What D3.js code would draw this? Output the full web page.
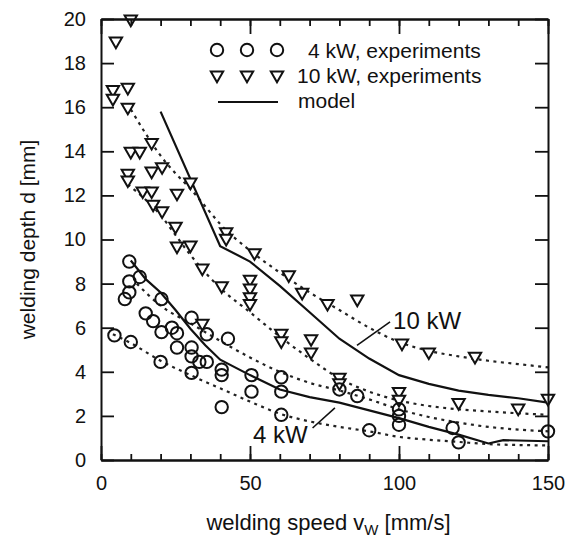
<html>
	<head>
		<script src="https://d3js.org/d3.v7.min.js"></script>
		<style>
			body { margin: 0; background: #fff; }
			text { font-family: "Liberation Sans", Arial, Helvetica, sans-serif; fill: #111; }
		</style>
	</head>
	<body>
		<div id="chart"></div>
		<script>
			// experiments, [speed mm/s, depth mm]
			var exp10 = [[10,20],[5,19],[4,16.8],[4,16.4],[9,16.9],[9,16.0],
				[10,14],[13,14],[17,14.4],[9,13.0],[9,12.7],[17,13.1],[20.5,13.3],[30,12.6],
				[14,12.2],[17,12.2],[25.5,12.1],[17.5,11.6],[20.5,11.3],[25,10.6],
				[25.5,9.7],[30,9.75],[42,10.35],[42,10.05],[51.5,9.4],
				[34,8.7],[40.5,7.9],[50,8.2],[50,7.8],[50,7.4],[50,7.1],
				[63,8.4],[67.5,7.6],[76,7.1],[86,7.3],[34,6.2],
				[60.5,5.75],[60.5,5.4],[70.5,5.5],[70.5,4.9],
				[101,5.3],[110,4.9],[125.5,4.7],
				[80,3.75],[80,3.5],[100,3.1],[100,2.75],[120,2.6],[140,2.35],[150,2.8]];
			var exp4 = [[9.5,9.0],[9.5,8.1],[13,8.3],[8,7.3],[9.5,7.6],[20.3,7.3],
				[15,6.65],[17.5,6.3],[20.3,5.8],[23.8,6.0],[25.5,5.75],[25.5,5.1],
				[30.4,6.45],[30.4,5.1],[30.4,4.7],[30.4,3.95],[33,4.45],[35.5,4.45],[35.5,5.7],
				[42.6,5.5],[40.5,4.1],[40.5,3.85],[40.5,2.4],[4.5,5.65],[10,5.35],[20,4.45],
				[50.5,3.85],[50.5,3.1],[60.5,3.75],[60.5,3.1],[60.5,2.05],
				[80,3.2],[86,2.9],[90,1.35],[100,2.3],[100,2.0],[100,1.6],[118,1.45],[120,0.8],[150,1.3]];

			// model curves
			var model10 = [[20,15.8],[40,9.7],[50,9.0],[60,7.9],[70,6.7],[80,5.5],[90,4.6],[100,3.85],
				[110,3.45],[120,3.15],[130,2.95],[140,2.8],[150,2.6]];
			var model4 = [[10,9.05],[15,8.2],[20,7.6],[25,6.8],[30,5.95],[35,5.2],[40,4.55],[50,3.85],
				[60,3.2],[70,2.85],[80,2.6],[90,2.25],[100,1.9],[110,1.5],[120,1.15],[130,0.75],[135,0.9],[150,0.85]];

			// dotted fits through the experiments
			var fits = [
				[[10,15.9],[15,14.8],[20,13.8],[25,13.0],[30,12.3],[35,11.5],[40,10.7],[50,9.5],[60,8.5],[70,7.6],
					[80,6.8],[90,6.0],[100,5.35],[110,4.95],[120,4.7],[130,4.5],[140,4.35],[150,4.2]],
				[[9,12.5],[15,11.8],[20,11.1],[25,10.2],[30,9.3],[35,8.5],[40,7.8],[50,6.7],[60,5.6],[70,4.6],
					[80,3.7],[90,3.1],[100,2.7],[110,2.45],[120,2.3],[130,2.2],[140,2.12],[150,2.05]],
				[[12,8.0],[20,7.0],[30,6.2],[40,5.4],[50,4.65],[60,4.0],[70,3.5],[80,3.15],[90,2.75],[100,2.3],
					[110,1.95],[120,1.7],[130,1.5],[140,1.38],[150,1.3]],
				[[4,5.7],[10,5.3],[20,4.5],[30,3.85],[40,3.25],[50,2.65],[60,2.1],[70,1.75],[80,1.5],[90,1.3],
					[100,1.05],[110,0.92],[120,0.82],[130,0.72],[140,0.68],[150,0.66]]
			];

			// annotations: label position and leader line, in data units
			var labels = [
				{text: '10 kW', at: [98, 5.95], leader: [[97,6.26],[85.9,5.2]]},
				{text: '4 kW', at: [51, 0.77], leader: [[71,1.45],[78.5,2.36]]}
			];

			var xMajor = [0, 50, 100, 150];
			var xMinor = d3.range(0, 151, 10);
			var yMajor = d3.range(0, 21, 2);

			var w = 571, h = 537;
			var x0 = 101, x1 = 548, yTop = 19, yBot = 460;

			var Xscale = d3.scaleLinear().domain([0,150]).range([x0,x1]);
			var Yscale = d3.scaleLinear().domain([0,20]).range([yBot,yTop]);

			var svg = d3.select('#chart').append('svg').attr('width',w).attr('height',h);

			// dotted fits
			var fitLine = d3.line().curve(d3.curveMonotoneX)
				.x(function(d){return Xscale(d[0])}).y(function(d){return Yscale(d[1])});
			svg.selectAll('.fit').data(fits).enter().append('path').attr('class','fit')
				.attr('fill','none').attr('stroke','#222').attr('stroke-width',2.2)
				.attr('stroke-dasharray','3,4.5').attr('d', fitLine);

			// model
			var modelLine = d3.line().x(function(d){return Xscale(d[0])}).y(function(d){return Yscale(d[1])});
			[model10, model4].forEach(function(m){
				svg.append('path').attr('fill','none').attr('stroke','#111').attr('stroke-width',2.2)
					.attr('d', modelLine(m));
			});

			// markers
			var tri = d3.symbol().type(d3.symbolTriangle).size(66);
			svg.selectAll('.t10').data(exp10).enter().append('path').attr('class','t10')
				.attr('d', tri).attr('fill','#fff').attr('stroke','#111').attr('stroke-width',2)
				.attr('transform', function(d){return 'translate('+Xscale(d[0])+','+Yscale(d[1])+') rotate(180)'});
			svg.selectAll('.c4').data(exp4).enter().append('circle').attr('class','c4')
				.attr('cx', function(d){return Xscale(d[0])}).attr('cy', function(d){return Yscale(d[1])})
				.attr('r',6.2).attr('fill','none').attr('stroke','#111').attr('stroke-width',2);

			// annotations
			labels.forEach(function(l){
				svg.append('line').attr('x1',Xscale(l.leader[0][0])).attr('y1',Yscale(l.leader[0][1]))
					.attr('x2',Xscale(l.leader[1][0])).attr('y2',Yscale(l.leader[1][1]))
					.attr('stroke','#111').attr('stroke-width',1.6);
				svg.append('text').attr('x',Xscale(l.at[0])).attr('y',Yscale(l.at[1]))
					.attr('font-size',24).text(l.text);
			});

			// axes, ticks inward
			svg.append('g').attr('transform','translate(0,'+yBot+')')
				.call(d3.axisBottom(Xscale).tickValues(xMinor).tickSizeInner(-6).tickSizeOuter(0).tickFormat(''));
			svg.append('g').attr('transform','translate(0,'+yBot+')')
				.call(d3.axisBottom(Xscale).tickValues(xMajor).tickSizeInner(-14).tickSizeOuter(0).tickPadding(16));
			svg.append('g').attr('transform','translate(0,'+yTop+')')
				.call(d3.axisTop(Xscale).tickValues(xMinor).tickSizeInner(-7).tickSizeOuter(0).tickFormat(''));
			svg.append('g').attr('transform','translate(0,'+yTop+')')
				.call(d3.axisTop(Xscale).tickValues(xMajor).tickSizeInner(-15).tickSizeOuter(0).tickFormat(''));
			svg.append('g').attr('transform','translate('+x0+',0)')
				.call(d3.axisLeft(Yscale).tickValues(yMajor).tickSizeInner(-13).tickSizeOuter(0).tickPadding(15));
			svg.append('g').attr('transform','translate('+x1+',0)')
				.call(d3.axisRight(Yscale).tickValues(yMajor).tickSizeInner(-13).tickSizeOuter(0).tickFormat(''));

			svg.selectAll('.domain').attr('stroke','#111').attr('stroke-width',2);
			svg.selectAll('.tick line').attr('stroke','#111').attr('stroke-width',1.8);
			svg.selectAll('.tick text').attr('font-size',20).attr('font-family','"Liberation Sans", Arial, sans-serif').attr('fill','#111');

			// legend
			var lg = svg.append('g');
			[217,247,277].forEach(function(cx){
				lg.append('circle').attr('cx',cx).attr('cy',50).attr('r',6.2).attr('fill','none')
					.attr('stroke','#111').attr('stroke-width',2);
				lg.append('path').attr('d',tri).attr('fill','#fff').attr('stroke','#111').attr('stroke-width',2)
					.attr('transform','translate('+cx+',75) rotate(180)');
			});
			lg.append('line').attr('x1',218).attr('x2',278).attr('y1',102).attr('y2',102)
				.attr('stroke','#111').attr('stroke-width',2.2);
			lg.append('text').attr('x',308).attr('y',58).attr('font-size',21).text('4 kW, experiments');
			lg.append('text').attr('x',297).attr('y',83).attr('font-size',21).text('10 kW, experiments');
			lg.append('text').attr('x',298).attr('y',108).attr('font-size',21).text('model');

			// titles
			var xt = svg.append('text').attr('x',(x0+x1)/2+4).attr('y',530).attr('text-anchor','middle')
				.attr('font-size',22);
			xt.append('tspan').text('welding speed v');
			xt.append('tspan').attr('font-size',15).attr('dy',5).text('W');
			xt.append('tspan').attr('dy',-5).text('  [mm/s]');

			svg.append('text').attr('transform','translate(35,'+((yTop+yBot)/2)+') rotate(-90)')
				.attr('text-anchor','middle').attr('font-size',21).text('welding depth d  [mm]');
		</script>
	</body>
</html>
